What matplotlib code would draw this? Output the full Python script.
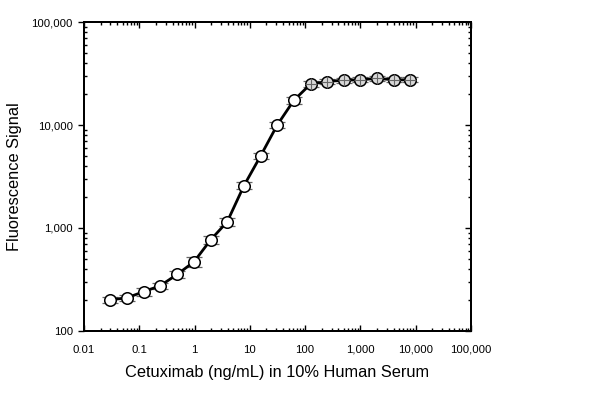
import numpy as np
import matplotlib.pyplot as plt
from matplotlib.ticker import FuncFormatter, LogLocator

plt.rcParams['font.family'] = ['Liberation Sans', 'DejaVu Sans']

# concentration series (ng/mL), 2-fold dilutions
conc = [0.03, 0.06, 0.12, 0.24, 0.49, 0.98, 1.95, 3.9, 7.8, 15.6, 31.25,
        62.5, 125, 250, 500, 1000, 2000, 4000, 8000]
signal = [200, 210, 240, 275, 355, 470, 765, 1150, 2570, 5000, 10000,
          17400, 25000, 26500, 27300, 27500, 28500, 27500, 27500]
err = [15, 15, 22, 20, 30, 55, 70, 110, 200, 350, 700,
       1300, 1600, 1500, 1500, 1500, 1500, 1500, 1500]

x_ticks = [0.01, 0.1, 1, 10, 100, 1000, 10000, 100000]
y_ticks = [100, 1000, 10000, 100000]

fig = plt.figure(figsize=(6, 4.03), dpi=100)
ax = fig.add_axes([0.14, 0.179, 0.645, 0.766])

ax.errorbar(conc, signal, yerr=err, fmt='none', ecolor='#666666',
            elinewidth=0.8, capsize=6, capthick=0.9, zorder=2)
ax.plot(conc, signal, color='black', lw=2, zorder=3)

conc = np.array(conc)
signal = np.array(signal)
low = conc < 100
ax.plot(conc[low], signal[low], 'o', ms=8.3, mfc='white', mec='black',
        mew=1.1, zorder=4)
ax.plot(conc[~low], signal[~low], 'o', ms=8.3, mfc='#d8d8d8', mec='black',
        mew=1.1, zorder=4)
ax.plot(conc[~low], signal[~low], '+', ms=8, color='#666666', mew=0.8,
        zorder=5)

ax.set_xscale('log')
ax.set_yscale('log')
ax.set_xlim(0.01, 100000)
ax.set_ylim(100, 100000)
ax.set_xticks(x_ticks)
ax.set_yticks(y_ticks)

fmt = FuncFormatter(lambda v, p: f'{v:,.0f}' if v >= 1 else f'{v:g}')
ax.xaxis.set_major_formatter(fmt)
ax.yaxis.set_major_formatter(fmt)
ax.xaxis.set_minor_locator(LogLocator(base=10, subs=np.arange(2, 10), numticks=20))
ax.yaxis.set_minor_locator(LogLocator(base=10, subs=np.arange(2, 10), numticks=20))
ax.xaxis.set_minor_formatter(plt.NullFormatter())
ax.yaxis.set_minor_formatter(plt.NullFormatter())

# x ticks inward top and bottom
ax.tick_params(axis='x', which='both', direction='in', top=True,
               labelsize=8.2, width=1)
ax.tick_params(axis='x', which='major', length=4, pad=10)
ax.tick_params(axis='x', which='minor', length=2.5)
# left y: major ticks outward, minor inward
ax.tick_params(axis='y', which='major', direction='out', length=4, width=1,
               pad=4, labelsize=8.2)
ax.tick_params(axis='y', which='minor', direction='in', length=2.5, width=1)

# right side ticks, all inward
ax2 = ax.twinx()
ax2.set_yscale('log')
ax2.set_ylim(100, 100000)
ax2.set_yticks(y_ticks)
ax2.yaxis.set_minor_locator(LogLocator(base=10, subs=np.arange(2, 10), numticks=20))
ax2.tick_params(axis='y', which='both', direction='in', width=1,
                labelright=False)
ax2.tick_params(axis='y', which='major', length=4)
ax2.tick_params(axis='y', which='minor', length=2.5)

for a in (ax, ax2):
    for s in a.spines.values():
        s.set_linewidth(1.4)

ax.set_xlabel('Cetuximab (ng/mL) in 10% Human Serum', fontsize=11.8)
ax.set_ylabel('Fluorescence Signal', fontsize=11.8)
ax.xaxis.set_label_coords(0.5, -0.11)
ax.yaxis.set_label_coords(-0.16, 0.5)

fig.savefig('out.png', dpi=100, facecolor='white')
